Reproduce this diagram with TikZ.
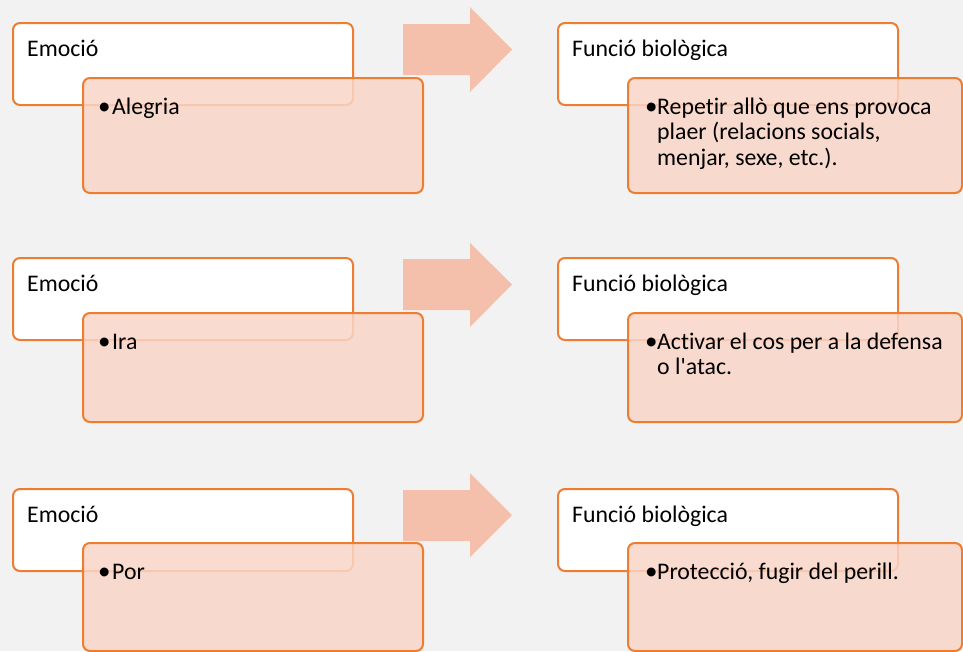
\documentclass[tikz,border=0pt]{standalone}
\usepackage{fontspec}
\setmainfont{Carlito}[Ligatures={NoCommon}]
\definecolor{bg}{HTML}{F2F2F2}
\definecolor{accent}{HTML}{ED7D31}
\definecolor{pinkfill}{HTML}{FAD5C7}
\definecolor{arrowfill}{HTML}{F4BFAB}
\begin{document}
\begin{tikzpicture}[x=1pt,y=-1pt,
  titlebox/.style={draw=accent, line width=2pt, fill=white, rounded corners=7pt,
    rectangle, anchor=north west, inner sep=0pt, minimum width=340pt, minimum height=82pt},
  detailbox/.style={draw=accent, line width=2pt, fill=pinkfill, fill opacity=0.85,
    rounded corners=7pt, rectangle, anchor=north west, inner sep=0pt},
  txt/.style={anchor=base west, inner sep=0pt, font=\fontsize{23.8}{25.5}\selectfont, text=black},
  bul/.style={anchor=base west, inner sep=0pt, font=\fontsize{25}{25.5}\selectfont, text=black},
  blockarrow/.style={fill=arrowfill, draw=none}
]
\useasboundingbox (0,0) rectangle (963,651);
\fill[bg] (0,0) rectangle (963,651);

% ---------- Row 1 ----------
\node[titlebox] (e1) at (12,22) {};
\node[detailbox, minimum width=340pt, minimum height=115pt] (d1) at (82,77) {};
\node[txt] (e1t) at ([shift={(15,34)}]e1.north west) {Emoció};
\node[bul] (d1b) at ([shift={(16,37)}]d1.north west) {•};
\node[txt] (d1t) at ([shift={(30,37)}]d1.north west) {Alegria};

\fill[blockarrow] (403,24) -- (470,24) -- (470,7) -- (512,49.5) -- (470,92) -- (470,75) -- (403,75) -- cycle;

\node[titlebox] (f1) at (557,22) {};
\node[detailbox, minimum width=334pt, minimum height=115pt] (g1) at (627,77) {};
\node[txt] (f1t) at ([shift={(15,34)}]f1.north west) {Funció biològica};
\node[bul] (g1b) at ([shift={(18,37)}]g1.north west) {•};
\node[txt] (g1a) at ([shift={(30,37)}]g1.north west) {Repetir allò que ens provoca};
\node[txt] (g1c) at ([shift={(30,62.5)}]g1.north west) {plaer (relacions socials,};
\node[txt] (g1d) at ([shift={(30,88)}]g1.north west) {menjar, sexe, etc.).};

% ---------- Row 2 ----------
\node[titlebox] (e2) at (12,257) {};
\node[detailbox, minimum width=340pt, minimum height=109pt] (d2) at (82,312) {};
\node[txt] (e2t) at ([shift={(15,34)}]e2.north west) {Emoció};
\node[bul] (d2b) at ([shift={(16,37)}]d2.north west) {•};
\node[txt] (d2t) at ([shift={(30,37)}]d2.north west) {Ira};

\fill[blockarrow] (403,259) -- (470,259) -- (470,243) -- (512,284.5) -- (470,327) -- (470,310) -- (403,310) -- cycle;

\node[titlebox] (f2) at (557,257) {};
\node[detailbox, minimum width=334pt, minimum height=109pt] (g2) at (627,312) {};
\node[txt] (f2t) at ([shift={(15,34)}]f2.north west) {Funció biològica};
\node[bul] (g2b) at ([shift={(18,37)}]g2.north west) {•};
\node[txt] (g2a) at ([shift={(30,37)}]g2.north west) {Activar el cos per a la defensa};
\node[txt] (g2c) at ([shift={(30,62.5)}]g2.north west) {o l\textquotesingle atac.};

% ---------- Row 3 ----------
\node[titlebox] (e3) at (12,488) {};
\node[detailbox, minimum width=340pt, minimum height=108pt] (d3) at (82,542) {};
\node[txt] (e3t) at ([shift={(15,34)}]e3.north west) {Emoció};
\node[bul] (d3b) at ([shift={(16,37)}]d3.north west) {•};
\node[txt] (d3t) at ([shift={(30,37)}]d3.north west) {Por};

\fill[blockarrow] (403,490) -- (470,490) -- (470,473) -- (512,515) -- (470,557) -- (470,541) -- (403,541) -- cycle;

\node[titlebox] (f3) at (557,488) {};
\node[detailbox, minimum width=334pt, minimum height=108pt] (g3) at (627,542) {};
\node[txt] (f3t) at ([shift={(15,34)}]f3.north west) {Funció biològica};
\node[bul] (g3b) at ([shift={(18,37)}]g3.north west) {•};
\node[txt] (g3a) at ([shift={(30,37)}]g3.north west) {Protecció, fugir del perill.};
\end{tikzpicture}
\end{document}
